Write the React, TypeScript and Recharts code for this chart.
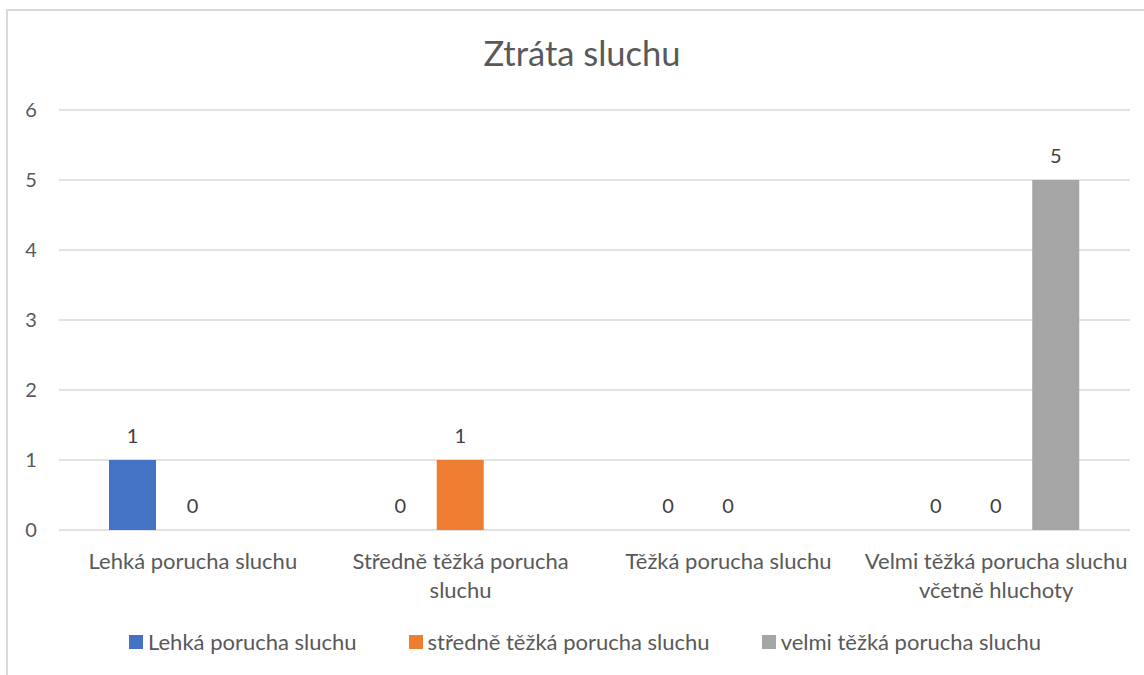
import { BarChart, Bar, XAxis, YAxis, CartesianGrid, LabelList } from "recharts";

const categories = [
  "Lehká porucha sluchu",
  "Středně těžká porucha\nsluchu",
  "Těžká porucha sluchu",
  "Velmi těžká porucha sluchu\nvčetně hluchoty",
];
const lehka = [1, 0, 0, 0];
const stredne = [0, 1, 0, 0];
const velmi = [null, null, null, 5];
const yTicks = [0, 1, 2, 3, 4, 5, 6];

const seriesNames = ["Lehká porucha sluchu", "středně těžká porucha sluchu", "velmi těžká porucha sluchu"];
const colors = ["#4472C4", "#ED7D31", "#A5A5A5"];

const data = categories.map((name, i) => ({
  name,
  lehka: lehka[i],
  stredne: stredne[i],
  velmi: velmi[i],
}));

const FONT = "Lato, 'Open Sans', sans-serif";
const TEXT = "#595959";

const YTick = ({ y, payload }: any) => (
  <text x={31} y={y + 7} textAnchor="middle" fontSize={20} fill={TEXT} fontFamily={FONT}>
    {payload.value}
  </text>
);

const XTick = ({ x, y, payload }: any) => {
  const lines = String(payload.value).split("\n");
  return (
    <text textAnchor="middle" fontSize={22} fill={TEXT} fontFamily={FONT}>
      {lines.map((l, i) => (
        <tspan key={i} x={x} y={y + 31 + i * 29}>
          {l}
        </tspan>
      ))}
    </text>
  );
};

const ValueLabel = ({ x, y, width, value }: any) => {
  if (value === null || value === undefined) return null;
  return (
    <text x={x + width / 2} y={y - 17} textAnchor="middle" fontSize={20} fill="#404040" fontFamily={FONT}>
      {value}
    </text>
  );
};

// keep zero-height bars so their "0" labels still show
const minSize = (v: any) => (v === 0 ? 0.01 : 0);

export default function App() {
  return (
    <div style={{ position: "absolute", left: 0, top: 0, width: 1144, height: 675, overflow: "hidden", background: "#fff" }}>
      <div
        style={{
          position: "absolute",
          left: 6,
          top: 9,
          width: 1300,
          height: 800,
          borderLeft: "2px solid #d9d9d9",
          borderTop: "2px solid #d9d9d9",
        }}
      />
      <div
        style={{
          position: "absolute",
          top: 33,
          left: 382,
          width: 400,
          textAlign: "center",
          fontFamily: FONT,
          fontSize: 34.5,
          color: TEXT,
          lineHeight: "40px",
        }}
      >
        Ztráta sluchu
      </div>
      <BarChart
        width={1144}
        height={675}
        data={data}
        margin={{ top: 110, right: 14, bottom: 115, left: 0 }}
        barSize={47}
        barGap={13}
        style={{ position: "absolute", left: 0, top: 0 }}
      >
        <CartesianGrid vertical={false} stroke="#d9d9d9" strokeWidth={1.5} />
        <YAxis domain={[0, 6]} ticks={yTicks} axisLine={false} tickLine={false} width={59} tick={<YTick />} interval={0} />
        <XAxis dataKey="name" axisLine={false} tickLine={false} tick={<XTick />} interval={0} height={30} />
        <Bar dataKey="lehka" fill={colors[0]} minPointSize={minSize} isAnimationActive={false}>
          <LabelList dataKey="lehka" content={<ValueLabel />} />
        </Bar>
        <Bar dataKey="stredne" fill={colors[1]} minPointSize={minSize} isAnimationActive={false}>
          <LabelList dataKey="stredne" content={<ValueLabel />} />
        </Bar>
        <Bar dataKey="velmi" fill={colors[2]} minPointSize={minSize} isAnimationActive={false}>
          <LabelList dataKey="velmi" content={<ValueLabel />} />
        </Bar>
      </BarChart>
      <div
        style={{
          position: "absolute",
          top: 629,
          left: 129,
          display: "flex",
          gap: 52,
          fontFamily: FONT,
          fontSize: 22,
          lineHeight: "26px",
          color: TEXT,
          whiteSpace: "nowrap",
        }}
      >
        {seriesNames.map((n, i) => (
          <div key={n} style={{ display: "flex", alignItems: "center" }}>
            <span style={{ width: 14, height: 14, background: colors[i], marginRight: 5, display: "inline-block" }} />
            <span>{n}</span>
          </div>
        ))}
      </div>
    </div>
  );
}
